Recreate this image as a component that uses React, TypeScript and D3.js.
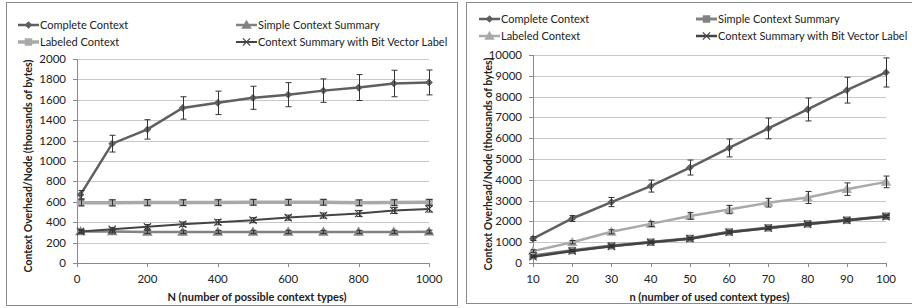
import * as d3 from "d3";

// left chart: N (number of possible context types)
const leftN = [10, 100, 200, 300, 400, 500, 600, 700, 800, 900, 1000];
const leftComplete = [670, 1170, 1310, 1520, 1570, 1620, 1650, 1690, 1720, 1760, 1770];
const leftCompleteErr = [40, 82, 95, 110, 115, 113, 118, 115, 127, 130, 122];
const leftLabeled = [590, 590, 592, 592, 592, 595, 595, 595, 590, 592, 595];
const leftLabeledErr = [30, 30, 30, 28, 28, 28, 28, 28, 28, 28, 28];
const leftSimple = [310, 310, 305, 305, 305, 305, 305, 305, 305, 305, 307];
const leftSimpleErr = [15, 15, 15, 15, 15, 15, 15, 15, 15, 15, 15];
const leftBit = [310, 330, 355, 380, 400, 420, 445, 465, 485, 515, 530];
const leftBitErr = [15, 15, 22, 22, 25, 25, 25, 25, 30, 30, 30];
const leftYTicks = [0, 200, 400, 600, 800, 1000, 1200, 1400, 1600, 1800, 2000];
const leftXTicks = [0, 200, 400, 600, 800, 1000];

// right chart: n (number of used context types)
const rightN = [10, 20, 30, 40, 50, 60, 70, 80, 90, 100];
const rightComplete = [1170, 2140, 2930, 3700, 4590, 5530, 6470, 7380, 8310, 9160];
const rightCompleteErr = [90, 140, 220, 290, 360, 430, 500, 550, 620, 700];
const rightLabeled = [570, 1000, 1500, 1880, 2260, 2570, 2900, 3150, 3550, 3900];
const rightLabeledErr = [60, 80, 100, 120, 160, 200, 210, 290, 300, 280];
const rightSimple = [350, 600, 830, 1000, 1180, 1490, 1690, 1880, 2060, 2250];
const rightSimpleErr = [40, 40, 50, 50, 50, 60, 60, 60, 60, 60];
const rightBit = [300, 580, 800, 1000, 1170, 1480, 1680, 1870, 2050, 2230];
const rightBitErr = [40, 40, 50, 50, 50, 60, 60, 60, 60, 60];
const rightYTicks = [0, 1000, 2000, 3000, 4000, 5000, 6000, 7000, 8000, 9000, 10000];
const rightXTicks = [10, 20, 30, 40, 50, 60, 70, 80, 90, 100];

const FONT = "Lato, 'Open Sans', sans-serif";
const C_COMPLETE = "#5f5f5f";
const C_LABELED = "#a9a9a9";
const C_SIMPLE = "#828282";
const C_BIT = "#444444";

type Series = {
  name: string;
  values: number[];
  err: number[];
  color: string;
  marker: "diamond" | "square" | "triangle" | "x";
  width: number;
};

const Marker = ({ kind, x, y, color }: { kind: string; x: number; y: number; color: string }) => {
  if (kind === "diamond") {
    const p = d3.symbol(d3.symbolSquare, 30)();
    return <path d={p!} transform={`translate(${x},${y}) rotate(45)`} fill={color} />;
  }
  if (kind === "square") {
    const p = d3.symbol(d3.symbolSquare, 56)();
    return <path d={p!} transform={`translate(${x},${y})`} fill={color} />;
  }
  if (kind === "triangle") {
    const p = d3.symbol(d3.symbolTriangle, 48)();
    return <path d={p!} transform={`translate(${x},${y + 0.8})`} fill={color} />;
  }
  const p = d3.symbol(d3.symbolX, 36)();
  return <path d={p!} transform={`translate(${x},${y})`} fill="none" stroke={color} strokeWidth={1.2} />;
};

const Panel = ({
  frame, plot, xs, xDomain, yDomain, xTicks, yTicks, series, legend, xTitle,
}: {
  frame: [number, number, number, number];
  plot: [number, number, number, number];
  xs: number[];
  xDomain: [number, number];
  yDomain: [number, number];
  xTicks: number[];
  yTicks: number[];
  series: Series[];
  legend: { cols: number[]; rows: number[] };
  xTitle: string;
}) => {
  const [pl, pt, pr, pb] = plot;
  const x = d3.scaleLinear().domain(xDomain).range([pl, pr]);
  const y = d3.scaleLinear().domain(yDomain).range([pb, pt]);
  const line = d3.line<number>().x((_, i) => x(xs[i])).y((d) => y(d));
  return (
    <g fontFamily={FONT}>
      <rect x={frame[0] + 0.5} y={frame[1] + 0.5} width={frame[2] - frame[0]} height={frame[3] - frame[1]}
        fill="white" stroke="#8a8a8a" />
      {yTicks.slice(1).map((t) => (
        <line key={t} x1={pl} x2={pr} y1={Math.round(y(t)) + 0.5} y2={Math.round(y(t)) + 0.5} stroke="#c8c8c8" />
      ))}
      <line x1={pl + 0.5} x2={pl + 0.5} y1={pt} y2={pb + 4} stroke="#8a8a8a" />
      <line x1={pl - 4} x2={pr} y1={Math.round(pb) + 0.5} y2={Math.round(pb) + 0.5} stroke="#8a8a8a" />
      {yTicks.map((t) => (
        <g key={t}>
          <line x1={pl - 4} x2={pl} y1={Math.round(y(t)) + 0.5} y2={Math.round(y(t)) + 0.5} stroke="#8a8a8a" />
          <text x={pl - 11} y={y(t)} dy="0.35em" textAnchor="end" fontSize={11.5} fill="#222">{t}</text>
        </g>
      ))}
      {xTicks.map((t) => (
        <g key={t}>
          <line x1={Math.round(x(t)) + 0.5} x2={Math.round(x(t)) + 0.5} y1={pb} y2={pb + 4} stroke="#8a8a8a" />
          <text x={x(t)} y={pb + 16} dy="0.35em" textAnchor="middle" fontSize={11.5} fill="#222">{t}</text>
        </g>
      ))}
      <text x={(pl + pr) / 2 - (pl < 400 ? -4 : 0)} y={pb + 34} dy="0.35em" textAnchor="middle" fontSize={11}
        fontWeight="bold" fill="#222">{xTitle}</text>
      <text transform={`translate(${frame[0] + 22},${(pt + pb) / 2 + 5}) rotate(-90)`} dy="0.35em" textAnchor="middle"
        fontSize={10.5} fontWeight="bold" fill="#222">Context Overhead/Node (thousands of bytes)</text>
      {series.map((s) => (
        <g key={s.name}>
          <path d={line(s.values)!} fill="none" stroke={s.color} strokeWidth={s.width} />
          {s.values.map((v, i) => (
            <Marker key={i} kind={s.marker} x={x(xs[i])} y={y(v)} color={s.color} />
          ))}
        </g>
      ))}
      {series.map((s) => (
        <g key={s.name + "err"} stroke="#333" strokeWidth={1}>
          {s.values.map((v, i) => {
            const cx = Math.round(x(xs[i])) + 0.5;
            const y0 = y(v - s.err[i]);
            const y1 = y(v + s.err[i]);
            return (
              <g key={i}>
                <line x1={cx} x2={cx} y1={y0} y2={y1} />
                <line x1={cx - 3} x2={cx + 3} y1={y0} y2={y0} />
                <line x1={cx - 3} x2={cx + 3} y1={y1} y2={y1} />
              </g>
            );
          })}
        </g>
      ))}
      {series.map((s, i) => {
        const lx = legend.cols[i % 2];
        const ly = legend.rows[Math.floor(i / 2)];
        return (
          <g key={s.name + "leg"}>
            <line x1={lx} x2={lx + 21} y1={ly} y2={ly} stroke={s.color} strokeWidth={s.width} />
            <Marker kind={s.marker} x={lx + 10.5} y={ly} color={s.color} />
            <text x={lx + 22} y={ly} dy="0.35em" fontSize={11} fill="#222">{s.name}</text>
          </g>
        );
      })}
    </g>
  );
};

export default function App() {
  const leftSeries: Series[] = [
    { name: "Complete Context", values: leftComplete, err: leftCompleteErr, color: C_COMPLETE, marker: "diamond", width: 2.5 },
    { name: "Simple Context Summary", values: leftSimple, err: leftSimpleErr, color: C_SIMPLE, marker: "triangle", width: 2.5 },
    { name: "Labeled Context", values: leftLabeled, err: leftLabeledErr, color: C_LABELED, marker: "square", width: 3.5 },
    { name: "Context Summary with Bit Vector Label", values: leftBit, err: leftBitErr, color: C_BIT, marker: "x", width: 2 },
  ];
  const rightSeries: Series[] = [
    { name: "Complete Context", values: rightComplete, err: rightCompleteErr, color: C_COMPLETE, marker: "diamond", width: 2.5 },
    { name: "Simple Context Summary", values: rightSimple, err: rightSimpleErr, color: C_SIMPLE, marker: "square", width: 3 },
    { name: "Labeled Context", values: rightLabeled, err: rightLabeledErr, color: C_LABELED, marker: "triangle", width: 2.5 },
    { name: "Context Summary with Bit Vector Label", values: rightBit, err: rightBitErr, color: C_BIT, marker: "x", width: 2.5 },
  ];
  return (
    <svg width={912} height={308} style={{ position: "absolute", left: 0, top: 0, background: "white" }}>
      <Panel frame={[6, 2, 457, 305]} plot={[77, 59, 429, 263]} xs={leftN} xDomain={[0, 1000]} yDomain={[0, 2000]}
        xTicks={leftXTicks} yTicks={leftYTicks} series={leftSeries} legend={{ cols: [18, 236], rows: [25, 42] }}
        xTitle="N (number of possible context types)" />
      <Panel frame={[466, 2, 930, 303]} plot={[533, 55, 886, 263]} xs={rightN} xDomain={[10, 100]} yDomain={[0, 10000]}
        xTicks={rightXTicks} yTicks={rightYTicks} series={rightSeries} legend={{ cols: [479, 696], rows: [19, 36] }}
        xTitle="n (number of used context types)" />
    </svg>
  );
}
